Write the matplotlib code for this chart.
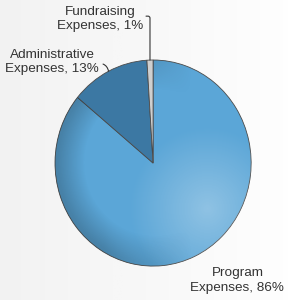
import matplotlib.pyplot as plt
import numpy as np

# expense breakdown, percent
categories = ['Program\nExpenses, 86%', 'Administrative\nExpenses, 13%', 'Fundraising\nExpenses, 1%']
shares = [86, 13, 1]
colors = ['#5ba6d7', '#3c78a3', '#cfcfcf']

plt.rcParams['font.family'] = ['Liberation Sans', 'DejaVu Sans']

fig = plt.figure(figsize=(2.88, 3.0), dpi=100)

# light paper-like background
bg = fig.add_axes([0, 0, 1, 1])
grad = np.linspace(0, 1, 256)
grad = np.vstack([grad] * 16)
bg.imshow(grad, cmap='Greys_r', vmin=-9, vmax=1.1, aspect='auto', extent=[0, 1, 0, 1])
bg.set_axis_off()

ax = fig.add_axes([0.191, 0.113, 0.681, 0.687])
wedges, _ = ax.pie(shares, colors=colors, startangle=90, counterclock=False,
                   wedgeprops=dict(edgecolor='#4a4a4a', linewidth=0.6))
ax.set_aspect('auto')
ax.set_axis_off()

# soft shading on the big slice: lighter lower right, darker left rim
yy, xx = np.mgrid[-1:1:200j, -1:1:200j]
d = np.hypot(xx - 0.55, yy + 0.45)
shade = np.zeros((200, 200, 4))
shade[..., :3] = 1.0
shade[..., 3] = np.clip(0.32 - d * 0.4, 0, 1)
im = ax.imshow(shade, extent=[-1, 1, -1, 1], origin='lower', zorder=2, aspect='auto')
im.set_clip_path(wedges[0])
rim = np.clip((np.hypot(xx, yy) - 0.7) * 0.8, 0, 0.22)
dark = np.zeros((200, 200, 4))
dark[..., 3] = rim * np.clip((0.4 - xx) / 0.9, 0, 1)
im2 = ax.imshow(dark, extent=[-1, 1, -1, 1], origin='lower', zorder=2, aspect='auto')
im2.set_clip_path(wedges[0])
ax.set_xlim(-1, 1)
ax.set_ylim(-1, 1)

def mid_point(w):
    ang = np.deg2rad((w.theta1 + w.theta2) / 2)
    return np.cos(ang), np.sin(ang)

txt = dict(fontsize=9.7, color='#333333', ha='center', va='center', linespacing=1.25)

ax.annotate(categories[2], xy=mid_point(wedges[2]), xytext=(-0.54, 1.40),
            arrowprops=dict(arrowstyle='-', color='#333333', lw=0.8, shrinkA=0, shrinkB=0,
                            relpos=(1.0, 0.6), connectionstyle='angle,angleA=0,angleB=90,rad=2'),
            annotation_clip=False, **txt)
ax.annotate(categories[1], xy=mid_point(wedges[1]), xytext=(-1.03, 0.98),
            arrowprops=dict(arrowstyle='-', color='#333333', lw=0.8, shrinkA=1, shrinkB=0,
                            relpos=(1.0, 0.45), connectionstyle='arc3,rad=-0.4'),
            annotation_clip=False, **txt)
ax.text(0.86, -1.14, categories[0], clip_on=False, **txt)

fig.savefig('out.png', dpi=100)
